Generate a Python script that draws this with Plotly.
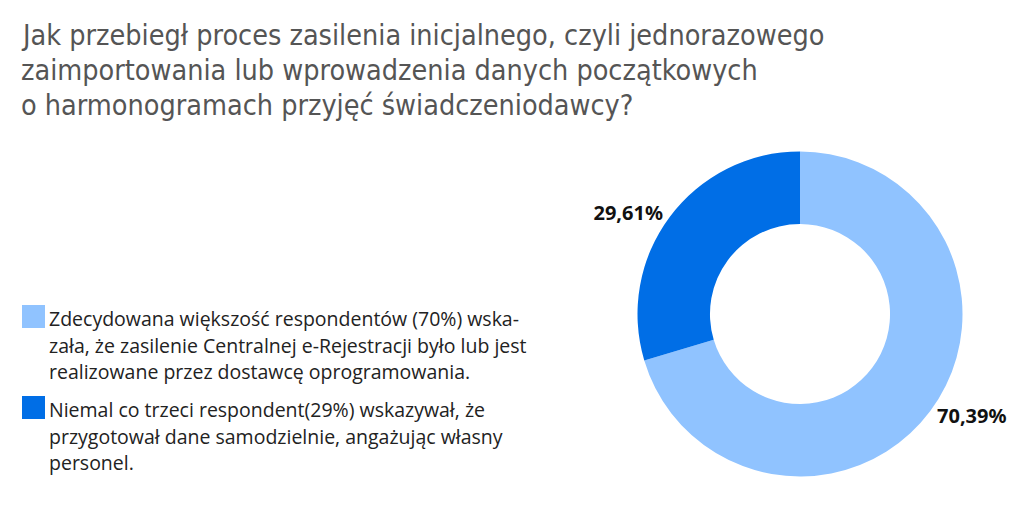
import plotly.graph_objects as go

# data
labels = ["dostawca oprogramowania", "samodzielnie"]
values = [70.39, 29.61]
value_text = ["70,39%", "29,61%"]
colors = ["#90C3FF", "#006EE6"]

title_lines = [
    "Jak przebiegł proces zasilenia inicjalnego, czyli jednorazowego",
    "zaimportowania lub wprowadzenia danych początkowych",
    "o harmonogramach przyjęć świadczeniodawcy?",
]

legend_lines = [
    ["Zdecydowana większość respondentów (70%) wska-",
     "zała, że zasilenie Centralnej e-Rejestracji było lub jest",
     "realizowane przez dostawcę oprogramowania."],
    ["Niemal co trzeci respondent(29%) wskazywał, że",
     "przygotował dane samodzielnie, angażując własny",
     "personel."],
]

W, H = 1024, 507
OFF = 8  # page body margin, the figure is drawn 8px right/down


def px_x(x):
    return (x - OFF) / W


def px_y(y):
    return 1 - (y - OFF) / H


fig = go.Figure()
fig.add_trace(go.Pie(
    labels=labels,
    values=values,
    text=value_text,
    textinfo="text",
    textposition="outside",
    hole=0.554,
    sort=False,
    direction="clockwise",
    rotation=0,
    marker=dict(colors=colors, line=dict(width=0)),
    textfont=dict(family="Noto Sans", size=20, color="#111", weight="bold"),
    domain=dict(x=[px_x(637.5), px_x(962.5)], y=[px_y(476.5), px_y(151.5)]),
    showlegend=False,
    hoverinfo="label+text",
))

annotations = []
# title, one annotation per line
for i, line in enumerate(title_lines):
    annotations.append(dict(
        text=line, x=px_x(19), y=px_y(47 + 35 * i),
        xref="paper", yref="paper", xanchor="left", yanchor="bottom",
        showarrow=False, yshift=-7,
        font=dict(family="Liberation Sans Narrow, DejaVu Sans Condensed, Roboto Condensed, Roboto",
                  size=28.5, color="#555555"),
    ))

# hand-made legend: square + wrapped text
shapes = []
block_top = [305, 396]
for k, lines in enumerate(legend_lines):
    top = block_top[k]
    shapes.append(dict(
        type="rect", xref="paper", yref="paper",
        x0=px_x(22), x1=px_x(45), y0=px_y(top + 23), y1=px_y(top),
        fillcolor=colors[k], line=dict(width=0),
    ))
    for i, line in enumerate(lines):
        annotations.append(dict(
            text=line, x=px_x(47), y=px_y(top + 23 + 26.5 * i),
            xref="paper", yref="paper", xanchor="left", yanchor="bottom",
            showarrow=False, yshift=-6,
            font=dict(family="Open Sans", size=19.5, color="#222222"),
        ))

fig.update_layout(
    width=W, height=H,
    margin=dict(l=0, r=0, t=0, b=0),
    paper_bgcolor="white",
    plot_bgcolor="white",
    annotations=annotations,
    shapes=shapes,
)

fig.write_html("out.html")
